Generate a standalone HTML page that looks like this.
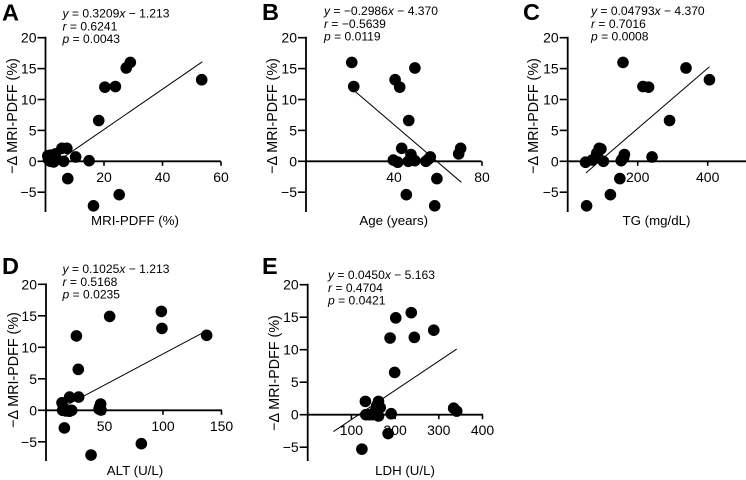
<!DOCTYPE html>
<html>
<head>
<meta charset="utf-8">
<style>
html,body{margin:0;padding:0;background:#fff;}
svg{display:block;font-family:"Liberation Sans",sans-serif;fill:#000;}
</style>
</head>
<body>
<svg id="chart" xmlns="http://www.w3.org/2000/svg" width="746" height="480" viewBox="0 0 746 480"></svg>
<script>
var yTicks = [-5, 0, 5, 10, 15, 20];

var aX = [53.4,29,27.6,23.9,20.3,18.2,5.6,7.3,10.3,14.9,6.2,7.6,25.2,16.4,1.7,3.4,1.7,2.8,1,2.3,0.8];
var aY = [13.2,16,15.1,12.1,12,6.6,2.1,2.1,0.7,0.1,0,-2.8,-5.4,-7.2,1,1.2,0,-0.1,0.3,0.5,0.9];
var aLineX = [5.1,53.6];
var aLineY = [0.3,16.1];
var aTicks = [20,40,60];

var bX = [20.8,49.5,40.5,42.6,21.7,46.7,43.5,70.3,69.4,47.7,56.5,39.7,41.7,46.5,49.5,54.5,59.5,45.6,58.5,55.5,48];
var bY = [16,15.1,13.2,12,12.1,6.6,2.1,2.1,1.2,1.1,0.7,0.2,-0.15,0,0.1,0,-2.8,-5.4,-7.2,0.3,0.5];
var bLineX = [21.7,70.6];
var bLineY = [11.5,-3.4];
var bTicks = [40,80];

var cX = [158,338,405,215,231,291,90,83,162,241,51,70,102,153,149,122,54,95,85,155,160];
var cY = [16,15.1,13.2,12.1,12,6.6,2.1,1.3,1.1,0.7,-0.15,0.2,0,0.1,-2.8,-5.4,-7.2,2,0.9,0.3,0.6];
var cLineX = [52,405];
var cLineY = [-1.9,15.3];
var cTicks = [200,400];

var dX = [98.6,54.4,99.1,137.3,26,27.6,20.2,27.9,13.7,46.7,45.3,47,14.2,20,17,15.7,81.5,38.5,22,15,46];
var dY = [15.7,14.9,13,11.9,11.8,6.5,2.1,2.1,1.2,1,0.2,0.05,0,-0.15,-0.1,-2.8,-5.3,-7.1,0,0.3,0.6];
var dLineX = [17,137];
var dLineY = [0.75,12.6];
var dTicks = [50,100,150];

var eX = [237,201.5,288.5,188.5,244,199,132,162,166,334,341,191,133,141,162,150,184,124,155,158,148];
var eY = [15.7,14.9,13,11.8,11.9,6.5,2.05,2.05,1.1,1,0.55,0.15,0,0,-0.2,0.1,-2.9,-5.3,0.6,1.4,0];
var eLineX = [59,341];
var eLineY = [-2.6,10.1];
var eTicks = [100,200,300,400];

var NS = 'http://www.w3.org/2000/svg';
var root = document.getElementById('chart');

function make(tag, parent, attrs, text) {
  var el = document.createElementNS(NS, tag);
  for (var k in attrs) el.setAttribute(k, attrs[k]);
  if (text !== undefined) el.textContent = text;
  parent.appendChild(el);
  return el;
}

function drawPanel(p) {
  var g = make('g', root, {});
  
  

  function sx(v) { return p.x0 + v * p.xs; }
  function sy(v) { return p.y0 - v * p.ys; }

  var letter = make('text', g, {x: p.lx, y: p.ly, 'font-size': 23.5, 'font-weight': 'bold'}, p.letter);
  
  

  p.notes.forEach(function (n, i) {
    var t = make('text', g, {x: p.nx, y: p.ny + i * 12.8, 'font-size': 12.1});
    
    
    make('tspan', t, {'font-style': 'italic'}, n[0]);
    make('tspan', t, {}, n[1]);
    if (n[2]) { make('tspan', t, {'font-style': 'italic'}, n[2]); make('tspan', t, {}, n[3]); }
  });

  var yAxis = make('line', g, {x1: p.x0, x2: p.x0, y1: sy(20) - 0.9, y2: p.yBottom, stroke: '#000', 'stroke-width': 1.8});
  
  

  var xAxis = make('line', g, {x1: p.x0, x2: p.xEnd, y1: sy(0), y2: sy(0), stroke: '#000', 'stroke-width': 1.8});
  
  

  yTicks.forEach(function (v) {
    var tick = make('line', g, {x1: p.x0 - 8, x2: p.x0, y1: sy(v), y2: sy(v), stroke: '#000', 'stroke-width': 1.6});
    
    
    var lab = make('text', g, {x: p.x0 - 9, y: sy(v) + 5, 'font-size': 14, 'text-anchor': 'end'}, (v < 0 ? '\u2212' + (-v) : '' + v));
    
    
  });

  p.ticks.forEach(function (v) {
    var tick = make('line', g, {x1: sx(v), x2: sx(v), y1: sy(0), y2: sy(0) + 4.5, stroke: '#000', 'stroke-width': 1.6});
    
    
    var lab = make('text', g, {x: sx(v), y: sy(0) + 20.5, 'font-size': 14, 'text-anchor': 'middle'}, '' + v);
    
    
  });

  var xt = make('text', g, {x: p.xtx, y: p.xty, 'font-size': 13.3, 'text-anchor': 'middle'}, p.xTitle);
  
  

  var yt = make('text', g, {transform: 'translate(' + p.ytx + ',' + p.yty + ') rotate(-90)', 'font-size': 14.3, 'text-anchor': 'middle'}, '\u2212\u0394 MRI-PDFF (%)');
  
  

  p.dx.forEach(function (v, i) {
    var c = make('circle', g, {cx: sx(v), cy: sy(p.dy[i]), r: 5.8, fill: '#000'});
    
    
  });

  var fit = make('line', g, {x1: sx(p.lineX[0]), y1: sy(p.lineY[0]), x2: sx(p.lineX[1]), y2: sy(p.lineY[1]), stroke: '#000', 'stroke-width': 1});
  
  
}

drawPanel({id:'a', letter:'A', lx:2, ly:20.5, nx:62.5, ny:17.5,
  notes:[['y',' = 0.3209','x',' \u2212 1.213'],['r',' = 0.6241'],['p',' = 0.0043']],
  x0:45.5, xs:2.925, y0:161.3, ys:6.18, yBottom:212, xEnd:220.8,
  dx:aX, dy:aY, lineX:aLineX, lineY:aLineY, ticks:aTicks,
  xTitle:'MRI-PDFF (%)', xtx:135, xty:225, ytx:17, yty:116});

drawPanel({id:'b', letter:'B', lx:262, ly:20, nx:324, ny:15,
  notes:[['y',' = \u22120.2986','x',' \u2212 4.370'],['r',' = \u22120.5639'],['p',' = 0.0119']],
  x0:306, xs:2.2, y0:161.3, ys:6.18, yBottom:212, xEnd:481.5,
  dx:bX, dy:bY, lineX:bLineX, lineY:bLineY, ticks:bTicks,
  xTitle:'Age (years)', xtx:393.7, xty:225, ytx:277, yty:116});

drawPanel({id:'c', letter:'C', lx:523, ly:20, nx:591, ny:15,
  notes:[['y',' = 0.04793','x',' \u2212 4.370'],['r',' = 0.7016'],['p',' = 0.0008']],
  x0:567.7, xs:0.35, y0:161.3, ys:6.18, yBottom:212, xEnd:746,
  dx:cX, dy:cY, lineX:cLineX, lineY:cLineY, ticks:cTicks,
  xTitle:'TG (mg/dL)', xtx:656.5, xty:225, ytx:538, yty:116});

drawPanel({id:'d', letter:'D', lx:2, ly:274, nx:62.5, ny:273,
  notes:[['y',' = 0.1025','x',' \u2212 1.213'],['r',' = 0.5168'],['p',' = 0.0235']],
  x0:46, xs:1.17, y0:410.3, ys:6.3, yBottom:461, xEnd:222,
  dx:dX, dy:dY, lineX:dLineX, lineY:dLineY, ticks:dTicks,
  xTitle:'ALT (U/L)', xtx:135, xty:475, ytx:18, yty:370});

drawPanel({id:'e', letter:'E', lx:262, ly:274, nx:328, ny:279,
  notes:[['y',' = 0.0450','x',' \u2212 5.163'],['r',' = 0.4704'],['p',' = 0.0421']],
  x0:307.7, xs:0.437, y0:414.7, ys:6.5, yBottom:461, xEnd:483,
  dx:eX, dy:eY, lineX:eLineX, lineY:eLineY, ticks:eTicks,
  xTitle:'LDH (U/L)', xtx:405, xty:475, ytx:279, yty:373});
</script>
</body>
</html>
